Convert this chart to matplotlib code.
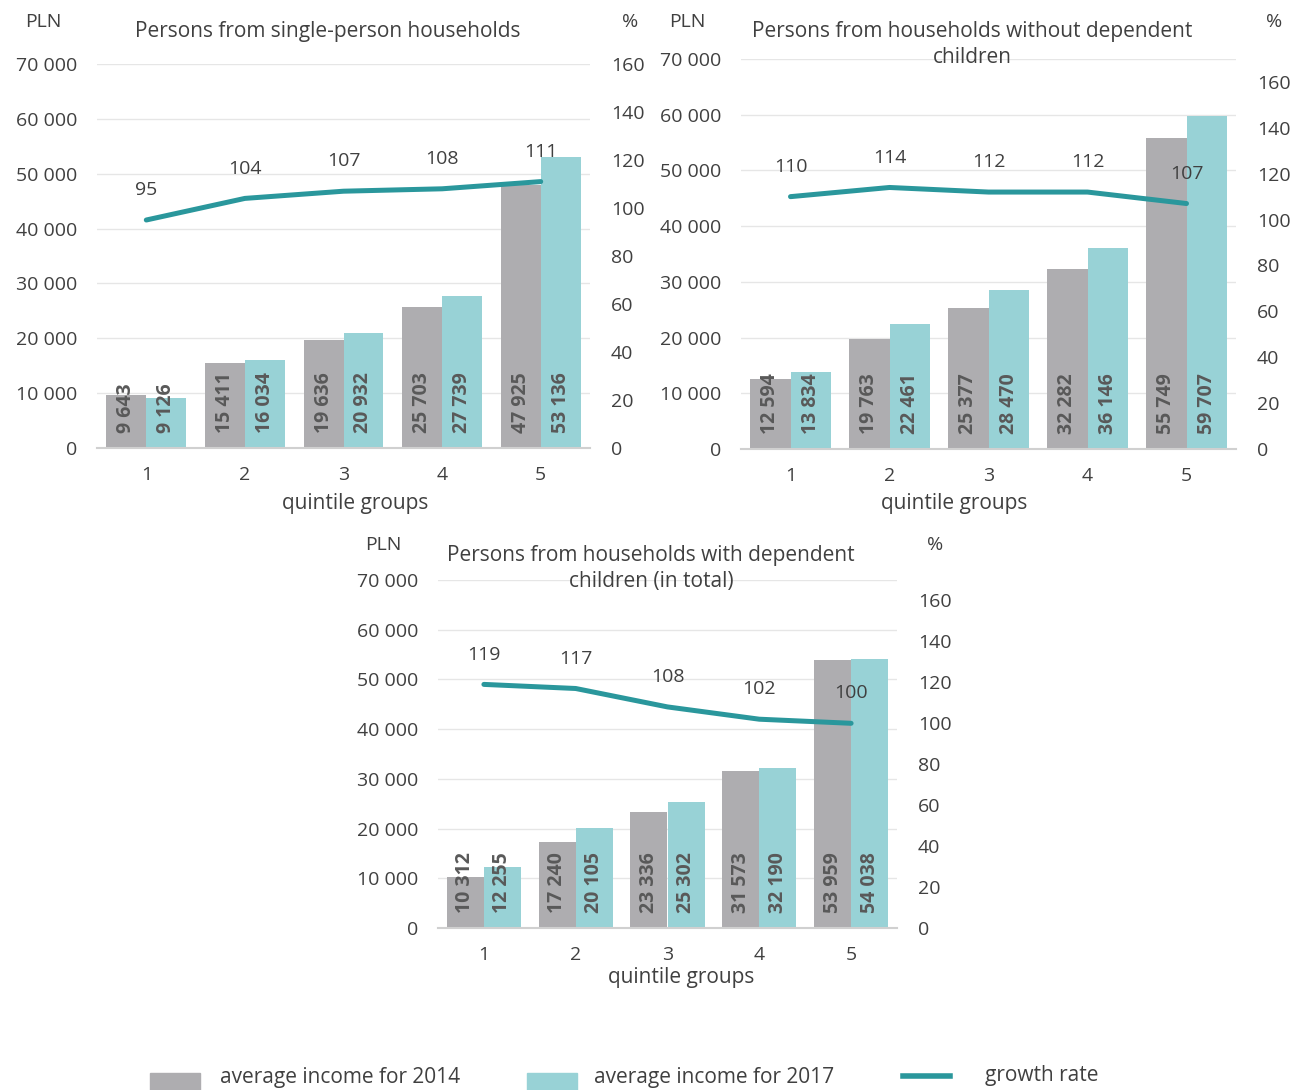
"""Average income by quintile groups, 2014 vs 2017, three household types."""

import matplotlib.pyplot as plt
from matplotlib.lines import Line2D
from matplotlib.patches import Rectangle
import numpy as np

plt.rcParams["font.family"] = ["Open Sans", "DejaVu Sans"]

W, H = 1291, 1090

quintiles = ["1", "2", "3", "4", "5"]

titles = [
    "Persons from single-person households",
    "Persons from households without dependent\nchildren",
    "Persons from households with dependent\nchildren (in total)",
]

income_2014_single = [9643, 15411, 19636, 25703, 47925]
income_2017_single = [9126, 16034, 20932, 27739, 53136]
growth_single = [95, 104, 107, 108, 111]

income_2014_nochild = [12594, 19763, 25377, 32282, 55749]
income_2017_nochild = [13834, 22461, 28470, 36146, 59707]
growth_nochild = [110, 114, 112, 112, 107]

income_2014_child = [10312, 17240, 23336, 31573, 53959]
income_2017_child = [12255, 20105, 25302, 32190, 54038]
growth_child = [119, 117, 108, 102, 100]

GRAY = "#AEADB0"
TEAL = "#98D2D6"
LINE = "#2A979C"
TXT = "#404040"
LBL = "#595959"


def fmt(v):
    return f"{v:,}".replace(",", " ")


def ftext(fig, x, y, s, **kw):
    fig.text(x / W, 1 - y / H, s, color=TXT, **kw)


def panel(fig, px, title, inc14, inc17, growth, rmax, pos):
    x0, x1, ytop, ybot = px
    ax = fig.add_axes([x0 / W, 1 - ybot / H, (x1 - x0) / W, (ybot - ytop) / H])
    x = np.arange(len(quintiles))
    bw = 0.405
    ax.bar(x - bw / 2, inc14, bw, color=GRAY, zorder=2)
    ax.bar(x + bw / 2, inc17, bw, color=TEAL, zorder=2)
    for xi, a, b in zip(x, inc14, inc17):
        for xx, v in ((xi - bw / 2, a), (xi + bw / 2, b)):
            ax.annotate(fmt(v), (xx, 0), xytext=(0, 11), textcoords="offset points",
                        rotation=90, ha="center", va="bottom", fontsize=14,
                        weight="bold", color=LBL, zorder=4)
    ax.set_xlim(-0.5, len(quintiles) - 0.5)
    ax.set_ylim(0, 70000)
    ax.set_yticks(range(0, 70001, 10000))
    ax.set_yticklabels([fmt(v) for v in range(0, 70001, 10000)])
    ax.set_xticks(x)
    ax.set_xticklabels(quintiles)
    ax.grid(axis="y", color="#E6E6E6", linewidth=1, zorder=0)
    for s in ["top", "right", "left"]:
        ax.spines[s].set_visible(False)
    ax.spines["bottom"].set_color("#D0D0D0")
    ax.spines["bottom"].set_linewidth(1.5)
    ax.tick_params(axis="both", length=0, labelsize=14, labelcolor=TXT)
    ax.tick_params(axis="y", pad=14)
    ax.tick_params(axis="x", pad=13)

    ax2 = ax.twinx()
    ax2.plot(x, growth, color=LINE, linewidth=3.6, solid_capstyle="round", zorder=5)
    for xi, g in zip(x, growth):
        ax2.annotate(str(g), (xi, g), xytext=(0, 15), textcoords="offset points",
                     ha="center", va="bottom", fontsize=14, color=TXT)
    ax2.set_ylim(0, rmax)
    ax2.set_yticks(range(0, 161, 20))
    for s in ax2.spines.values():
        s.set_visible(False)
    ax2.tick_params(axis="y", length=0, labelsize=14, labelcolor=TXT, pad=15)

    (plx, ply), (pcx, pcy), (tx, ty), (qx, qy) = pos
    ftext(fig, plx, ply, "PLN", fontsize=14, ha="center", va="center")
    ftext(fig, pcx, pcy, "%", fontsize=14, ha="center", va="center")
    ftext(fig, tx, ty, title, fontsize=15, ha="center", va="top", linespacing=1.3)
    ftext(fig, qx, qy, "quintile groups", fontsize=15, ha="center", va="center")
    return ax


def main():
    fig = plt.figure(figsize=(W / 100, H / 100), dpi=100)
    fig.patch.set_facecolor("white")

    panel(fig, (97, 590, 64, 448), titles[0], income_2014_single,
          income_2017_single, growth_single, 160,
          ((43, 22), (630, 22), (328, 21), (355, 503)))
    panel(fig, (741, 1236, 59, 449), titles[1], income_2014_nochild,
          income_2017_nochild, growth_nochild, 170,
          ((687, 22), (1274, 22), (972, 21), (954, 503)))
    panel(fig, (438, 897, 580, 928), titles[2], income_2014_child,
          income_2017_child, growth_child, 170,
          ((383, 545), (935, 545), (651, 545), (681, 978)))

    # legend
    fig.add_artist(Rectangle((150 / W, 1 - 1090 / H), 50 / W, 17 / H,
                             transform=fig.transFigure, color=GRAY))
    ftext(fig, 220, 1078, "average income for 2014", fontsize=15, va="center")
    fig.add_artist(Rectangle((527 / W, 1 - 1090 / H), 50 / W, 17 / H,
                             transform=fig.transFigure, color=TEAL))
    ftext(fig, 594, 1078, "average income for 2017", fontsize=15, va="center")
    fig.add_artist(Line2D([903 / W, 950 / W], [1 - 1076 / H, 1 - 1076 / H],
                          transform=fig.transFigure, color=LINE, linewidth=4))
    ftext(fig, 985, 1076, "growth rate", fontsize=15, va="center")

    fig.savefig("out.png", dpi=100, facecolor="white")
    plt.close(fig)


if __name__ == "__main__":
    main()
